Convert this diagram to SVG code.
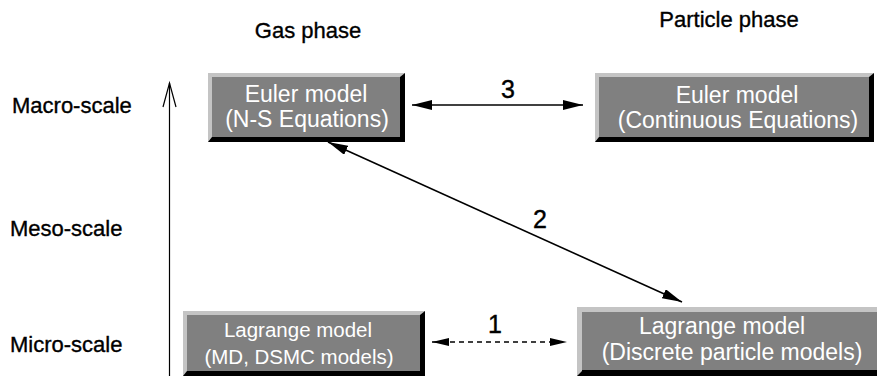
<svg xmlns="http://www.w3.org/2000/svg" width="877" height="376" viewBox="0 0 877 376">
  <style>
    .label { font-family: "Liberation Sans", Arial, sans-serif; font-size: 22px; fill: #000; stroke: #000; stroke-width: 0.35; }
    .num { font-family: "Liberation Sans", Arial, sans-serif; font-size: 25px; fill: #000; stroke: #000; stroke-width: 0.4; text-anchor: middle; }
    .btxt { font-family: "Liberation Sans", Arial, sans-serif; fill: #fff; text-anchor: middle; }
    .face { fill: #808080; }
    .hi { fill: #c4c4c4; }
    .lo { fill: #000; }
    .conn { stroke: #000; stroke-width: 1.6; fill: none; }
  </style>
  <defs>
    <marker id="head" viewBox="0 0 20 10" refX="20" refY="5" markerWidth="20" markerHeight="10" markerUnits="userSpaceOnUse" orient="auto-start-reverse">
      <path d="M0,0 L20,5 L0,10 Z" fill="#000"/>
    </marker>
    <marker id="headS" viewBox="0 0 17 8" refX="17" refY="4" markerWidth="17" markerHeight="8" markerUnits="userSpaceOnUse" orient="auto-start-reverse">
      <path d="M0,0 L17,4 L0,8 Z" fill="#000"/>
    </marker>
  </defs>

  <!-- phase headings -->
  <text class="label" x="308" y="38" text-anchor="middle">Gas phase</text>
  <text class="label" x="729" y="27" text-anchor="middle">Particle phase</text>

  <!-- scale labels -->
  <text class="label" x="12" y="113">Macro-scale</text>
  <text class="label" x="10" y="236">Meso-scale</text>
  <text class="label" x="10" y="352">Micro-scale</text>

  <!-- scale axis -->
  <g id="axis">
    <line x1="169.5" y1="83" x2="169.5" y2="376" stroke="#000" stroke-width="1.2"/>
    <polyline points="163,107 169.5,83 176,107" fill="none" stroke="#000" stroke-width="1.2"/>
  </g>

  <!-- Euler model, gas phase -->
  <g id="euler-gas">
    <rect class="lo" x="208" y="73" width="197" height="69"/>
    <polygon class="hi" points="208,73 405,73 400,77 212,77 212,137 208,142"/>
    <rect class="face" x="212" y="77" width="188" height="60"/>
    <text class="btxt" x="306" y="102" font-size="23">Euler model</text>
    <text class="btxt" x="307" y="127" font-size="23">(N-S Equations)</text>
  </g>

  <!-- Euler model, particle phase -->
  <g id="euler-particle">
    <rect class="lo" x="595" y="73" width="279" height="69"/>
    <polygon class="hi" points="595,73 874,73 869,77 599,77 599,137 595,142"/>
    <rect class="face" x="599" y="77" width="270" height="60"/>
    <text class="btxt" x="737" y="103" font-size="23">Euler model</text>
    <text class="btxt" x="738" y="128" font-size="23">(Continuous Equations)</text>
  </g>

  <!-- Lagrange model, gas phase -->
  <g id="lagrange-gas">
    <rect class="lo" x="183" y="311" width="242" height="65"/>
    <polygon class="hi" points="183,311 425,311 420,315 187,315 187,371 183,376"/>
    <rect class="face" x="187" y="315" width="233" height="56"/>
    <text class="btxt" x="298" y="337" font-size="20.5">Lagrange model</text>
    <text class="btxt" x="299" y="364" font-size="20.5">(MD, DSMC models)</text>
  </g>

  <!-- Lagrange model, particle phase -->
  <g id="lagrange-particle">
    <rect class="lo" x="577" y="307" width="300" height="69"/>
    <polygon class="hi" points="577,307 877,307 877,312 582,312 582,371 577,376"/>
    <rect class="face" x="582" y="312" width="295" height="58"/>
    <text class="btxt" x="722" y="334" font-size="23">Lagrange model</text>
    <text class="btxt" x="732" y="360" font-size="23">(Discrete particle models)</text>
  </g>

  <!-- connectors -->
  <g id="connectors">
    <line class="conn" x1="412" y1="105" x2="583" y2="105" marker-start="url(#head)" marker-end="url(#head)"/>
    <line class="conn" x1="328" y1="142" x2="682" y2="302" stroke-width="1.4" marker-start="url(#head)" marker-end="url(#head)"/>
    <line class="conn" x1="432" y1="342" x2="567" y2="342" stroke-width="1.3" stroke-dasharray="5 4" marker-start="url(#headS)" marker-end="url(#headS)"/>
    <text class="num" x="508" y="98">3</text>
    <text class="num" x="540" y="228">2</text>
    <text class="num" x="495" y="333">1</text>
  </g>
</svg>
